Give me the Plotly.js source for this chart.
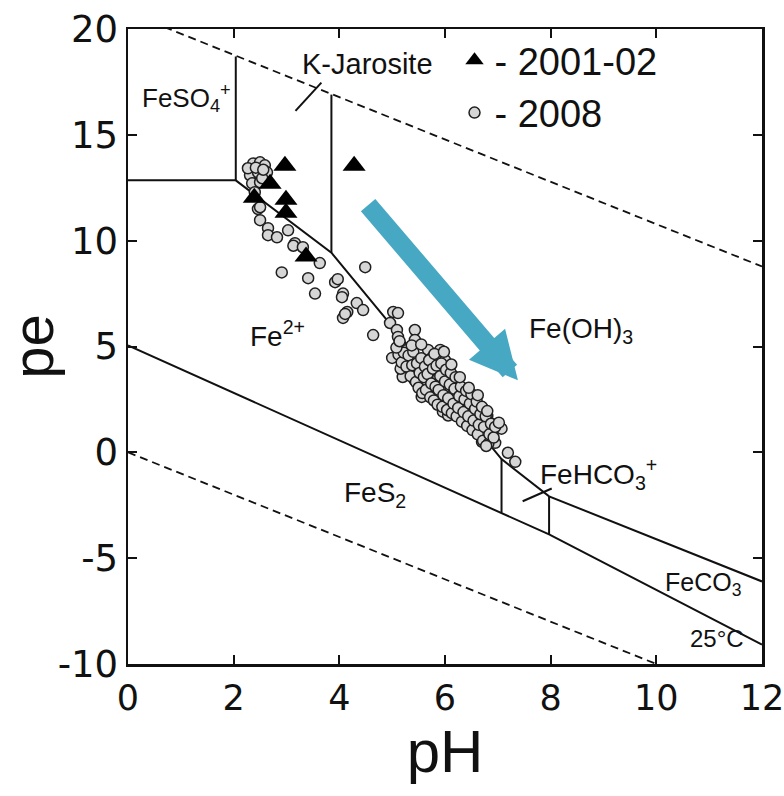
<!DOCTYPE html>
<html>
<head>
<meta charset="utf-8">
<script src="https://cdn.plot.ly/plotly-3.0.1.min.js"></script>
<style>html,body{margin:0;padding:0;background:#fff;}</style>
</head>
<body>
<div id="chart" style="width:784px;height:796px;"></div>
<script>
// ---- sample data (pH, pe) ----
const tri2001_pH = [2.97, 4.28, 2.69, 2.39, 2.99, 2.99, 3.37];
const tri2001_pe = [13.54, 13.54, 12.69, 12.03, 11.93, 11.32, 9.25];

const circ2008_pH = [
 2.37,2.50,2.59,2.31,2.46,2.63,2.35,2.50,2.27,2.54,2.42,2.56,2.40,2.46,2.50,2.50,2.65,2.65,2.82,3.03,
 3.16,3.13,3.31,3.63,2.91,4.49,3.41,3.92,3.97,3.54,4.07,4.05,4.33,4.45,4.15,4.07,4.11,5.02,5.11,4.64,
 4.96,5.09,5.11,5.43,5.43,5.28,5.00,5.28,5.68,5.91,6.00,5.75,5.47,5.21,5.62,5.85,6.09,5.39,5.66,6.06,
 6.25,5.66,5.85,6.09,6.34,6.47,6.23,6.61,6.42,6.80,7.07,5.56,5.91,6.44,6.53,6.63,6.76,6.85,6.72,6.89,
 6.95,7.19,7.33,6.70,
 5.30,5.36,5.41,5.44,5.51,5.53,5.56,5.59,5.61,5.63,5.66,5.69,5.71,5.73,5.76,5.78,5.81,5.83,5.85,5.87,
 5.89,5.90,5.93,5.95,5.97,5.99,6.01,6.03,6.05,6.07,6.08,6.11,6.12,6.15,6.17,6.19,6.21,6.23,6.24,6.27,
 6.29,6.31,6.33,6.35,6.37,6.39,6.41,6.43,6.45,6.47,6.49,6.51,6.53,6.55,6.57,6.59,6.61,6.63,6.65,6.67,
 6.69,6.71,6.73,6.75,6.77,6.79,6.81,6.83,5.25,5.34,5.42,5.49,5.58,5.64,5.74,5.80,5.86,5.92,5.98,6.04,
 6.10,6.16,6.22,6.28,6.34,6.40,6.46,6.52,6.58,6.64,6.70,6.76,6.86,6.90,5.20,5.16,5.96,6.06,6.26,6.36,
 6.56,6.66,
 5.12,5.18,5.22,5.27,5.31,5.35,5.38,5.40,5.45,5.47,5.50,5.52,5.55,5.57,5.60,5.62,5.64,5.67,5.70,5.72,
 5.74,5.77,5.79,5.82,5.84,5.86,5.88,5.91,5.93,5.95,5.97,6.00,6.02,6.04,6.06,6.09,6.11,6.13,6.16,6.18,
 6.20,6.22,6.25,6.27,6.30,6.32,6.35,6.37,6.40,6.42,6.44,6.47,6.50,6.52,6.54,6.57,6.60,6.62,6.64,6.67,
 6.70,6.72,6.74,6.77,6.80,6.82,6.84,6.87,6.92,6.95,7.02,6.78,5.08,5.14,5.37,5.55,5.80,5.98,6.12,6.28,
 6.45,6.62
];
const circ2008_pe = [
 13.65,13.70,13.56,13.09,13.23,13.23,12.71,12.76,13.42,12.95,13.45,13.35,12.29,11.50,11.58,10.97,10.59,10.26,10.16,10.49,
 9.88,9.76,9.69,8.94,8.50,8.75,8.23,8.04,8.18,7.50,7.50,7.33,7.05,6.72,6.63,6.35,6.54,6.63,6.58,5.54,
 6.11,5.78,5.45,5.78,5.31,4.84,4.46,4.50,4.84,4.84,4.36,4.46,4.03,3.80,3.80,3.89,3.66,3.66,4.22,3.80,
 3.42,3.42,3.28,2.95,2.81,2.33,2.57,2.00,2.10,1.72,1.12,2.62,2.57,2.15,1.91,1.67,1.67,1.39,0.83,0.92,
 0.45,-0.02,-0.45,0.50,
 4.10,3.92,4.31,3.71,4.02,3.48,3.88,4.17,3.27,3.62,3.97,3.18,3.53,3.82,3.03,3.41,3.67,2.88,3.24,3.52,
 2.71,3.08,3.36,2.53,2.96,3.22,2.41,2.79,3.06,2.24,2.63,2.91,2.08,2.48,2.77,1.94,2.36,2.61,1.83,2.19,
 2.46,1.68,2.04,2.31,1.58,1.96,2.16,1.44,1.79,2.01,1.33,1.64,1.91,1.18,1.54,1.76,1.08,1.41,1.59,0.93,
 1.24,1.46,0.68,1.04,1.31,0.58,0.96,1.17,3.81,4.44,3.43,4.38,3.13,4.29,2.84,3.96,2.59,3.71,2.33,3.41,
 2.13,3.04,1.88,2.79,1.53,2.44,1.28,2.19,1.03,1.89,0.78,1.61,0.73,1.02,3.56,3.95,1.92,1.74,3.18,2.74,
 2.48,2.12,
 4.62,4.25,4.71,4.05,4.58,3.60,4.12,4.75,3.32,4.20,3.05,3.75,4.45,2.80,3.55,4.05,2.95,3.70,4.35,2.60,
 3.25,3.95,2.45,3.10,4.10,2.25,2.95,3.60,4.20,2.15,2.70,3.35,3.90,2.00,2.55,3.20,3.75,1.85,2.30,3.00,
 3.55,1.70,2.10,2.65,3.10,1.45,1.90,2.50,2.90,1.25,1.70,2.30,2.75,1.05,1.50,2.05,2.40,0.85,1.30,1.80,
 2.15,0.55,1.20,1.70,1.95,0.40,0.85,1.35,0.70,1.20,1.40,0.30,4.95,5.25,5.05,5.10,4.65,4.75,4.15,3.55,
 3.05,2.70
];

// ---- stability-field boundaries (pH, pe) ----
const o2_pH = [0, 12];            // upper water limit (dashed)
const o2_pe = [20.78, 8.78];
const h2_pH = [0, 12];            // lower water limit (dashed)
const h2_pe = [0, -12];
const fes2_pH = [0, 7.07, 7.97, 12];
const fes2_pe = [5.05, -2.85, -3.88, -9.08];
const feoh_pH = [0, 2.04, 3.85, 7.07, 7.97, 12];
const feoh_pe = [12.85, 12.85, 9.43, -0.32, -2.08, -6.10];
const vSO4_pH = [2.04, 2.04];
const vSO4_pe = [12.85, 18.70];
const vJar_pH = [3.85, 3.85];
const vJar_pe = [9.43, 16.90];
const vHCO3a_pH = [7.07, 7.07];
const vHCO3a_pe = [-0.32, -2.85];
const vHCO3b_pH = [7.97, 7.97];
const vHCO3b_pe = [-2.08, -3.88];
const jarTick_pH = [3.17, 3.66];
const jarTick_pe = [16.13, 17.47];
const hco3Tick_pH = [7.47, 8.02];
const hco3Tick_pe = [-2.31, -1.71];

const xTicks = [0, 2, 4, 6, 8, 10, 12];
const xTickText = ['0', '2', '4', '6', '8', '10', '12'];
const yTicks = [-10, -5, 0, 5, 10, 15, 20];
const yTickText = ['-10', '-5', '0', '5', '10', '15', '20'];

const LINE = '#111111';
function seg(x, y, dash) {
  return {x: x, y: y, type: 'scatter', mode: 'lines', showlegend: false, hoverinfo: 'skip',
          line: {color: LINE, width: dash ? 1.8 : 2, dash: dash ? '8px,5px' : 'solid'}};
}

const traces = [
  seg(o2_pH, o2_pe, true),
  seg(h2_pH, h2_pe, true),
  seg(fes2_pH, fes2_pe),
  seg(feoh_pH, feoh_pe),
  seg(vSO4_pH, vSO4_pe),
  seg(vJar_pH, vJar_pe),
  seg(vHCO3a_pH, vHCO3a_pe),
  seg(vHCO3b_pH, vHCO3b_pe),
  seg(jarTick_pH, jarTick_pe),
  seg(hco3Tick_pH, hco3Tick_pe),
  {x: circ2008_pH, y: circ2008_pe, type: 'scatter', mode: 'markers', name: '- 2008', legendrank: 2,
   marker: {symbol: 'circle', size: 11, color: '#d6d6d6', line: {color: '#1f1f1f', width: 1.5}}},
  {x: tri2001_pH, y: tri2001_pe, type: 'scatter', mode: 'markers', name: '- 2001-02', legendrank: 1,
   marker: {symbol: 'triangle-up', size: 20, color: '#000000', line: {width: 0}}}
];

const FONT = 'Liberation Sans, Arial, Helvetica, sans-serif';
const TICKFONT = 'DejaVu Sans, Liberation Sans, Arial, sans-serif';
function lab(x, y, text, size, xanchor) {
  return {x: x, y: y, xref: 'x', yref: 'y', text: text, showarrow: false,
          xanchor: xanchor || 'left', yanchor: 'middle', font: {size: size, color: '#111', family: FONT}};
}

const layout = {
  width: 784, height: 796,
  margin: {l: 128, r: 22, t: 29, b: 132},
  paper_bgcolor: '#ffffff', plot_bgcolor: '#ffffff',
  font: {family: FONT, color: '#111'},
  showlegend: true,
  legend: {x: 0.515, y: 1.0, xanchor: 'left', yanchor: 'top', bgcolor: 'rgba(0,0,0,0)',
           font: {size: 38, family: FONT, color: '#111'}, tracegroupgap: 0},
  xaxis: {range: [0, 12], tickvals: xTicks, ticktext: xTickText, ticks: 'inside', ticklen: 9, tickwidth: 2,
          tickcolor: LINE, showline: true, linewidth: 2.5, linecolor: LINE, mirror: 'ticks',
          showgrid: false, zeroline: false, tickfont: {size: 35, family: TICKFONT, color: '#111'},
          ticklabelstandoff: 1, ticklabeloverflow: 'allow',
          title: {text: 'pH', font: {size: 60, family: FONT, color: '#111'}, standoff: 8}},
  yaxis: {range: [-10, 20], tickvals: yTicks, ticktext: yTickText, ticks: 'inside', ticklen: 9, tickwidth: 2,
          tickcolor: LINE, showline: true, linewidth: 2.5, linecolor: LINE, mirror: 'ticks',
          showgrid: false, zeroline: false, tickfont: {size: 37, family: TICKFONT, color: '#111'},
          ticklabelstandoff: 0, ticklabeloverflow: 'allow',
          title: {text: 'pe', font: {size: 58, family: FONT, color: '#111'}, standoff: 2}},
  annotations: [
    {x: 7.38, y: 3.40, ax: 4.52, ay: 11.75, xref: 'x', yref: 'y', axref: 'x', ayref: 'y',
     text: '', showarrow: true, arrowhead: 2, arrowsize: 0.5, arrowwidth: 19, arrowcolor: '#47a8c4'},
    lab(0.22, 16.75, 'FeSO<sub>4</sub><sup>+</sup>', 26),
    lab(3.26, 18.35, 'K-Jarosite', 29),
    lab(2.27, 5.6, 'Fe<sup>2+</sup>', 28),
    lab(7.55, 5.75, 'Fe(OH)<sub>3</sub>', 28),
    lab(4.05, -2.0, 'FeS<sub>2</sub>', 28),
    lab(7.76, -1.0, 'FeHCO<sub>3</sub><sup>+</sup>', 28),
    lab(10.13, -6.2, 'FeCO<sub>3</sub>', 25),
    lab(11.7, -8.8, '25°C', 24, 'right')
  ]
};

Plotly.newPlot('chart', traces, layout, {staticPlot: true, displayModeBar: false});
</script>
</body>
</html>
